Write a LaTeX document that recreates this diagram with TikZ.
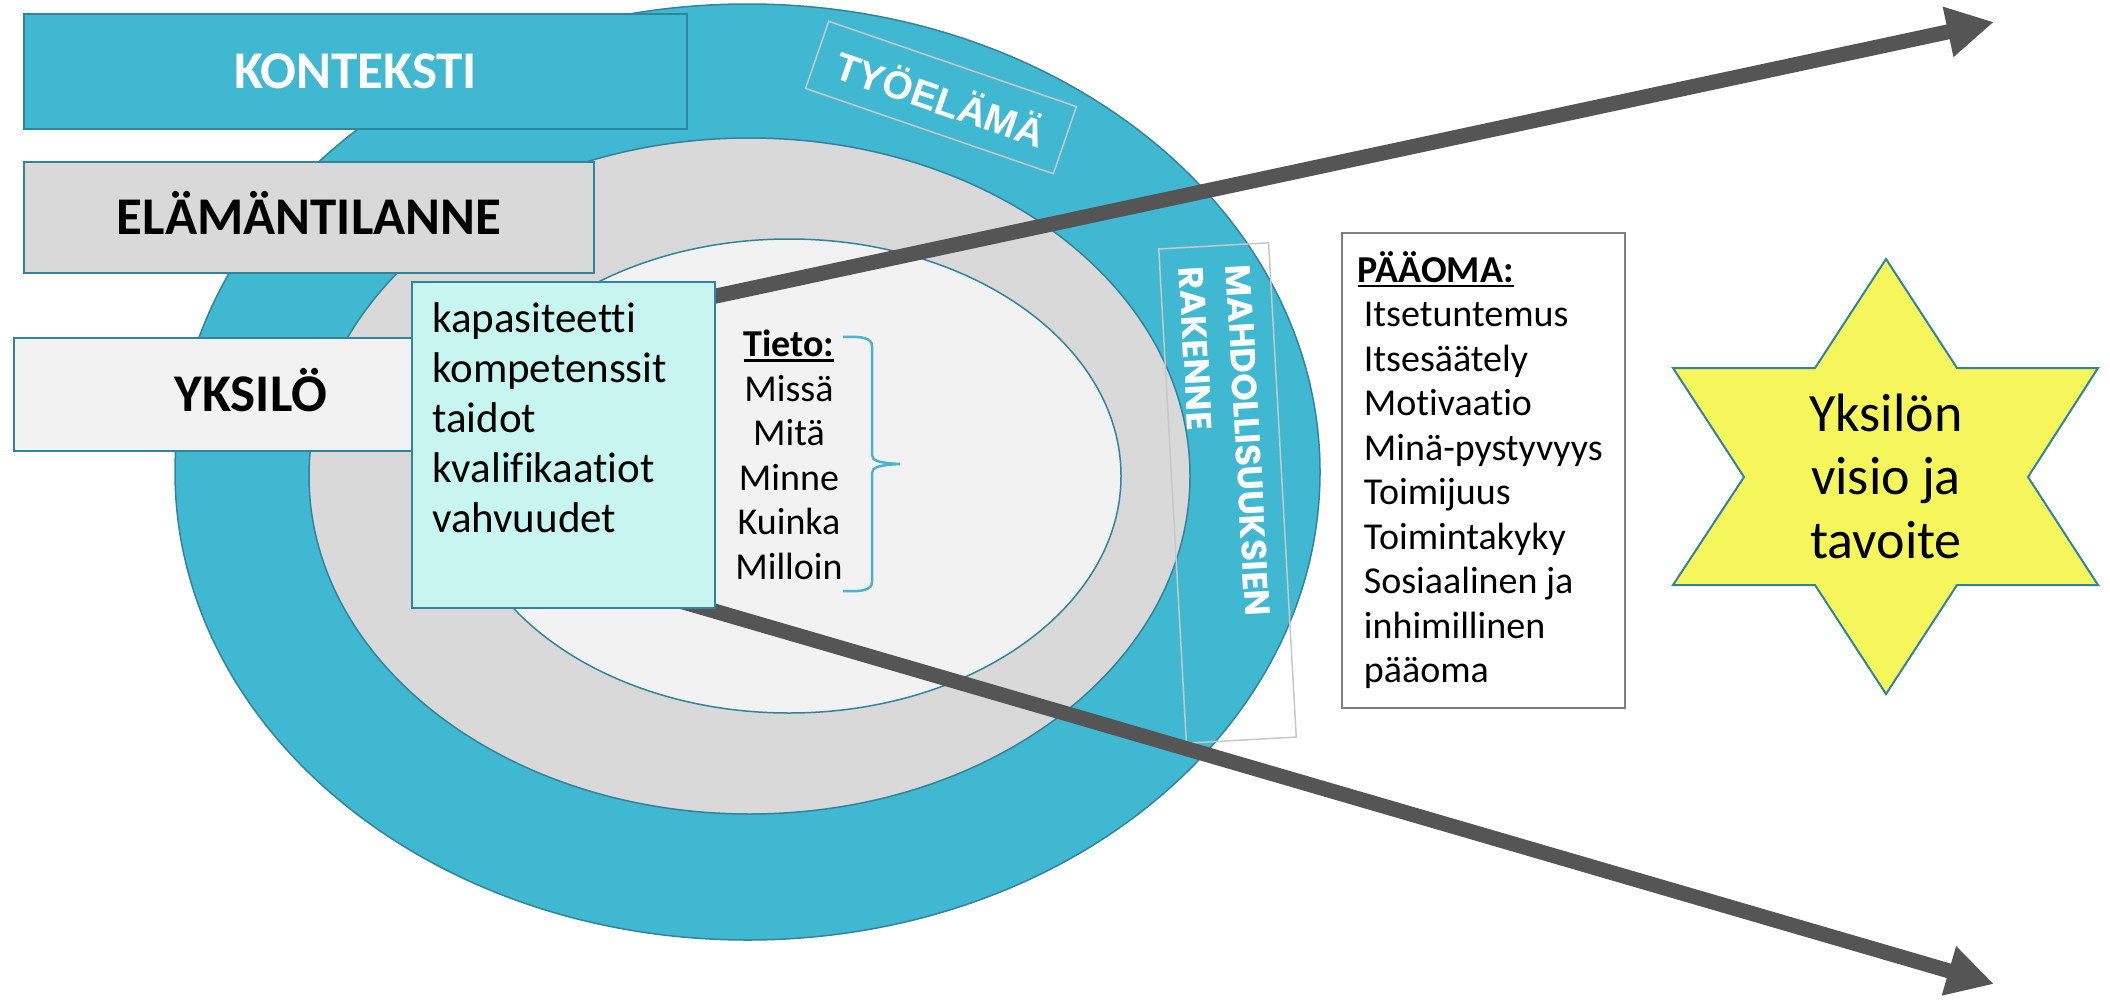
\documentclass[tikz,border=0pt]{standalone}
\usepackage{fontspec}
\setmainfont{Carlito}[Ligatures=NoCommon]
\newfontfamily\poppins{Poppins}
\newfontfamily\arialbold{Liberation Sans}
\usetikzlibrary{positioning, arrows.meta}
\newcommand{\paksuviiva}[1]{\setbox0\hbox{#1}\leavevmode\rlap{\rule[-5pt]{\wd0}{2.5pt}}\box0}

\definecolor{ringblue}{RGB}{65,184,210}
\definecolor{tealline}{RGB}{49,132,155}
\definecolor{lifegray}{RGB}{217,217,217}
\definecolor{selfgray}{RGB}{242,242,242}
\definecolor{mint}{RGB}{200,245,240}
\definecolor{arrowgray}{RGB}{85,85,85}
\definecolor{staryellow}{RGB}{245,245,92}
\definecolor{framegray}{RGB}{200,200,200}
\definecolor{boxgray}{RGB}{127,127,127}
\definecolor{bracecol}{RGB}{75,180,205}

\begin{document}
\begin{tikzpicture}[x=1pt, y=-1pt,
  tag box/.style={draw=tealline, line width=2pt, inner sep=0pt, anchor=north west,
    text height=34pt, text depth=0pt, font=\fontsize{53}{60}\selectfont\bfseries},
  list text/.style={inner sep=0pt, font=\fontsize{38}{44.5}\selectfont},
  thin frame/.style={draw=framegray, line width=1.5pt, text=white},
  big arrow/.style={draw=arrowgray, line width=15pt, -{Triangle[length=47pt, width=48pt]}}]
\useasboundingbox (0,0) rectangle (2110,999);

\draw[fill=ringblue, draw=tealline, line width=1.5pt] (747.5,472) ellipse [x radius=572.5pt, y radius=468pt];
\draw[fill=lifegray, draw=tealline, line width=1.5pt] (749.5,476) ellipse [x radius=440.5pt, y radius=338pt];
\draw[fill=selfgray, draw=tealline, line width=1.5pt] (789,476) ellipse [x radius=332pt, y radius=237pt];

\node[thin frame, rotate=-19, minimum width=262pt, minimum height=71pt,
  font={\arialbold\bfseries\fontsize{39}{42}\selectfont}] (tyoelama) at (941,97.5) {TYÖELÄMÄ};
\node[thin frame, rotate=-86.8, minimum height=110pt, text width=455pt, inner xsep=20pt, align=left,
  font={\poppins\bfseries\fontsize{35}{47}\selectfont}] (rakenne) at (1227.5,493) {MAHDOLLISUUKSIEN\\RAKENNE};

\coordinate (ylalahto) at (646,311);
\coordinate (ylakarki) at (1994,22);
\coordinate (alalahto) at (673,599);
\coordinate (alakarki) at (1994,984);
\draw[big arrow] (ylalahto) -- (ylakarki);
\draw[big arrow] (alalahto) -- (alakarki);

\node[tag box, fill=ringblue, text=white, minimum width=663pt, minimum height=115pt] (konteksti) at (23,13) {KONTEKSTI};
\node[tag box, fill=lifegray, minimum width=570pt, minimum height=111pt] (elamantilanne) at (23,161) {ELÄMÄNTILANNE};
\node[tag box, fill=selfgray, minimum width=474pt, minimum height=113pt] (yksilo) at (13,337) {YKSILÖ};

\node[draw=tealline, line width=2pt, fill=mint, anchor=north west, minimum width=303pt, minimum height=326pt] (ominaisuudet) at (411,281) {};
\node[inner sep=0pt, align=left, font=\fontsize{43}{50}\selectfont, below right=21pt and 21pt of ominaisuudet.north west]
  (kyvyt) {kapasiteetti\\kompetenssit\\taidot\\kvalifikaatiot\\vahvuudet};

\node[list text, align=center, anchor=north] (tieto) at (789,330) {\paksuviiva{\textbf{Tieto:}}\\Missä\\Mitä\\Minne\\Kuinka\\Milloin};
\draw[bracecol, line width=2.5pt] (843,337) .. controls (862,336) and (872,338) .. (872,346) -- (872,455)
  .. controls (872,461) and (880,463) .. (900,464) .. controls (880,465) and (872,467) .. (872,473)
  -- (872,582) .. controls (872,590) and (862,592) .. (843,591);

\node[list text, draw=boxgray, line width=1.5pt, align=left, anchor=north west, minimum width=283pt, minimum height=475pt]
  (paaoma) at (1341,232) {\hspace*{-6pt}\paksuviiva{\textbf{PÄÄOMA:}}\\Itsetuntemus\\Itsesäätely\\Motivaatio\\Minä-pystyvyys\\Toimijuus\\Toimintakyky\\Sosiaalinen ja\\inhimillinen\\pääoma};

\draw[fill=staryellow, draw=tealline, line width=2pt] (1886,259) -- (1957,368) -- (2098,368) -- (2028,477)
  -- (2098,585) -- (1957,585) -- (1886,694) -- (1815,585) -- (1673,585) -- (1744,477) -- (1673,368) -- (1815,368) -- cycle;
\node[align=center, inner sep=0pt, font=\fontsize{54}{63.5}\selectfont] (visio) at (1886,476) {Yksilön\\visio ja\\tavoite};
\end{tikzpicture}
\end{document}
